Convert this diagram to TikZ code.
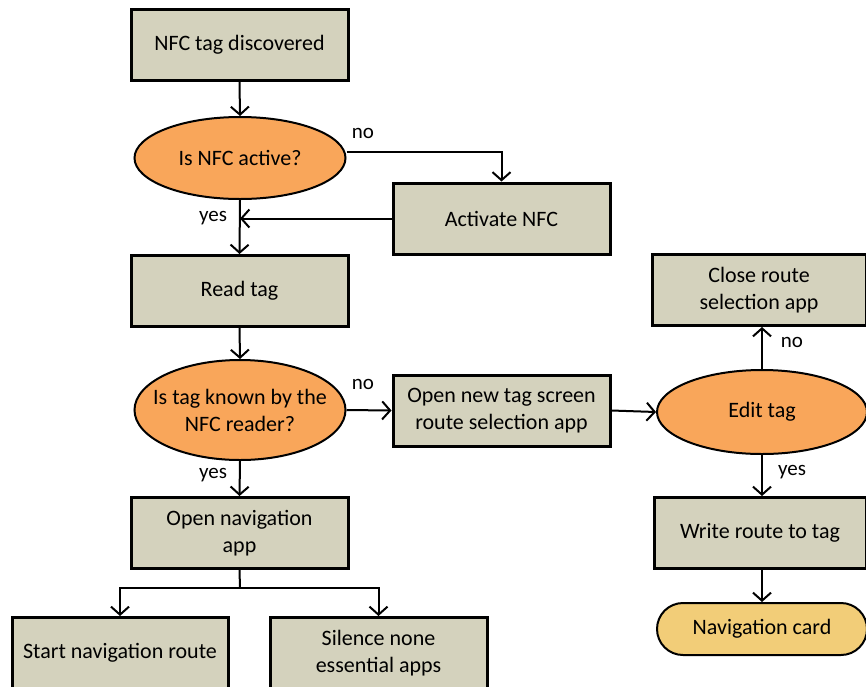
\documentclass[tikz,border=0pt]{standalone}
\usepackage{fontspec}
\setmainfont{Carlito}
\usetikzlibrary{shapes.geometric,arrows.meta}
\definecolor{boxfill}{RGB}{212,210,189}
\definecolor{ellfill}{RGB}{249,166,90}
\definecolor{cardfill}{RGB}{242,205,120}
\tikzset{
  proc/.style={draw=black,line width=3pt,fill=boxfill,rectangle,minimum width=217pt,minimum height=71pt,inner sep=0pt,align=center,font=\fontsize{22}{27}\selectfont},
  decis/.style={draw=black,line width=2pt,fill=ellfill,ellipse,inner xsep=-20pt,inner ysep=-5pt,align=center,font=\fontsize{22}{27}\selectfont},
  term/.style={draw=black,line width=2pt,fill=cardfill,rectangle,rounded corners=26pt,minimum width=210pt,minimum height=52pt,inner sep=0pt,font=\fontsize{22}{27}\selectfont},
  arr/.style={line width=2pt,-{Straight Barb[length=8pt,width=18pt,line width=2pt]}},
  lnk/.style={line width=2pt},
  lbl/.style={font=\fontsize{21}{25}\selectfont,inner sep=0pt}
}
\begin{document}
\begin{tikzpicture}[x=1pt,y=-1pt]
\useasboundingbox[fill=white] (0,0) rectangle (866,686);
\node[proc] (disc) at (239.5,45) {NFC tag discovered};
\node[decis,minimum width=211pt,minimum height=82pt] (active) at (240,158) {Is NFC active?};
\node[proc] (activate) at (501.5,218.5) {Activate NFC};
\node[proc] (read) at (239.5,291) {Read tag};
\node[decis,minimum width=211pt,minimum height=100pt] (known) at (240,410) {Is tag known by the\\NFC reader?};
\node[proc] (opennew) at (501.5,410.5) {Open new tag screen\\route selection app};
\node[decis,minimum width=210pt,minimum height=84pt] (edit) at (762,412) {Edit tag};
\node[proc,minimum width=214pt] (close) at (759,290) {Close route\\selection app};
\node[proc,minimum width=212pt] (write) at (760,533) {Write route to tag};
\node[term] (card) at (762,629) {Navigation card};
\node[proc] (opennav) at (239.5,533) {Open navigation\\app};
\node[proc,minimum width=216pt] (start) at (120,653) {Start navigation route};
\node[proc] (silence) at (378.5,653) {Silence none\\essential apps};

\draw[arr] (disc.south) -- (active.north);
\draw[arr] ([yshift=6pt]active.east) -| (activate.north);
\node[lbl] (lno1) at (363,133) {no};
\draw[arr] (activate.west) -- (activate.west -| active.south);
\draw[arr] (active.south) -- (read.north);
\node[lbl] (lyes1) at (213,218) {yes};
\draw[arr] (read.south) -- (known.north);
\draw[arr] (known.east) -- (opennew.west);
\node[lbl] (lno2) at (363,384) {no};
\draw[arr] (opennew.east) -- (edit.west);
\draw[arr] (edit.north) -- (close.south -| edit.north);
\node[lbl] (lno3) at (792,342) {no};
\draw[arr] (edit.south) -- (write.north -| edit.south);
\node[lbl] (lyes3) at (792,472) {yes};
\draw[arr] (write.south -| card.north) -- (card.north);
\draw[arr] (known.south) -- (opennav.north);
\node[lbl] (lyes2) at (213,475) {yes};
\coordinate (split) at (240,588);
\draw[lnk] (opennav.south) -- (split);
\draw[arr] (split) -| (start.north);
\draw[arr] (split) -| (silence.north);
\end{tikzpicture}
\end{document}
